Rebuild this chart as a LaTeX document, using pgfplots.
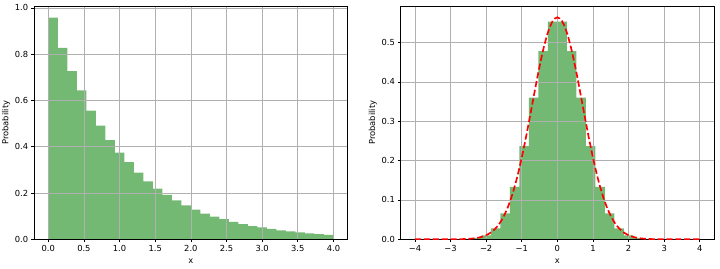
\documentclass[border=0pt]{standalone}
\usepackage{pgfplots}
\pgfplotsset{compat=1.18}
\usepackage{fontspec}
\setmainfont{DejaVu Sans}
\definecolor{histg}{RGB}{0,128,0}
\definecolor{gridc}{RGB}{176,176,176}
\begin{document}
\fontsize{8.33}{10}\selectfont
\begin{tikzpicture}
\pgfplotsset{
 mystyle/.style={
  set layers=standard,
  scale only axis, height=233.3pt,
  anchor=south west,
  axis line style={black, line width=0.67pt},
  tick align=outside, tick style={black, line width=0.67pt}, major tick length=2.9pt,
  xtick pos=left, ytick pos=left,
  grid=major, major grid style={gridc, line width=0.67pt},
  ticklabel style={font=\fontsize{8.33}{10}\selectfont},
  label style={font=\fontsize{8.33}{10}\selectfont},
  xlabel={x}, ylabel={Probability},
  xlabel style={at={(axis description cs:0.5,-0.096)}, anchor=center},
  ylabel style={at={(axis description cs:-0.0893,0.5)}, anchor=center},
 }
}
% ---------- left: exponential ----------
\begin{axis}[mystyle, at={(34pt,28.7pt)}, width=313.7pt,
  xmin=-0.2, xmax=4.2, ymin=0, ymax=1.008,
  xtick={0,0.5,...,4}, xticklabels={0.0,0.5,1.0,1.5,2.0,2.5,3.0,3.5,4.0},
  ytick={0,0.2,0.4,0.6,0.8,1.0}, yticklabels={0.0,0.2,0.4,0.6,0.8,1.0}]
\addplot[on layer=axis background, const plot mark left, fill=histg, fill opacity=0.55, draw=none] coordinates {
(0.0000,0.958) (0.1333,0.827) (0.2667,0.727) (0.4000,0.643) (0.5333,0.556)
(0.6667,0.491) (0.8000,0.428) (0.9333,0.374) (1.0667,0.333) (1.2000,0.288)
(1.3333,0.250) (1.4667,0.219) (1.6000,0.192) (1.7333,0.168) (1.8667,0.147)
(2.0000,0.128) (2.1333,0.111) (2.2667,0.098) (2.4000,0.087) (2.5333,0.075)
(2.6667,0.066) (2.8000,0.057) (2.9333,0.051) (3.0667,0.045) (3.2000,0.039)
(3.3333,0.034) (3.4667,0.030) (3.6000,0.026) (3.7333,0.022) (3.8667,0.019)
(4.0000,0.019)} \closedcycle;
\end{axis}
% ---------- right: normal ----------
\begin{axis}[mystyle, at={(400.7pt,28.7pt)}, width=313.3pt,
  xmin=-4.4, xmax=4.4, ymin=0, ymax=0.593,
  xtick={-4,...,4}, xticklabels={−4,−3,−2,−1,0,1,2,3,4},
  ytick={0,0.1,0.2,0.3,0.4,0.5}, yticklabels={0.0,0.1,0.2,0.3,0.4,0.5}]
\addplot[on layer=axis background, const plot mark left, fill=histg, fill opacity=0.55, draw=none] coordinates {
(-2.4000,0.003) (-2.1333,0.010) (-1.8667,0.028) (-1.6000,0.066) (-1.3333,0.133)
(-1.0667,0.237) (-0.8000,0.360) (-0.5333,0.478) (-0.2667,0.553) (0.0000,0.553)
(0.2667,0.478) (0.5333,0.360) (0.8000,0.237) (1.0667,0.133) (1.3333,0.066)
(1.6000,0.028) (1.8667,0.010) (2.1333,0.003) (2.4000,0.003)} \closedcycle;
\addplot[red, line width=1.67pt, dash pattern=on 6.2pt off 2.7pt, smooth] coordinates {
(-4.0,0.0000) (-3.5,0.0000) (-3.0,0.0001) (-2.75,0.0003) (-2.5,0.0011) (-2.375,0.0020)
(-2.25,0.0036) (-2.125,0.0062) (-2.0,0.0103) (-1.875,0.0168) (-1.75,0.0264)
(-1.625,0.0402) (-1.5,0.0595) (-1.375,0.0852) (-1.25,0.1182) (-1.125,0.1592)
(-1.0,0.2076) (-0.875,0.2624) (-0.75,0.3215) (-0.625,0.3817) (-0.5,0.4394)
(-0.375,0.4902) (-0.25,0.5300) (-0.125,0.5555) (0.0,0.5642) (0.125,0.5555)
(0.25,0.5300) (0.375,0.4902) (0.5,0.4394) (0.625,0.3817) (0.75,0.3215)
(0.875,0.2624) (1.0,0.2076) (1.125,0.1592) (1.25,0.1182) (1.375,0.0852)
(1.5,0.0595) (1.625,0.0402) (1.75,0.0264) (1.875,0.0168) (2.0,0.0103)
(2.125,0.0062) (2.25,0.0036) (2.375,0.0020) (2.5,0.0011) (2.75,0.0003)
(3.0,0.0001) (3.5,0.0000) (4.0,0.0000)};
\end{axis}
\pgfresetboundingbox
\useasboundingbox (0,0) rectangle (720pt,268pt);
\end{tikzpicture}
\end{document}
